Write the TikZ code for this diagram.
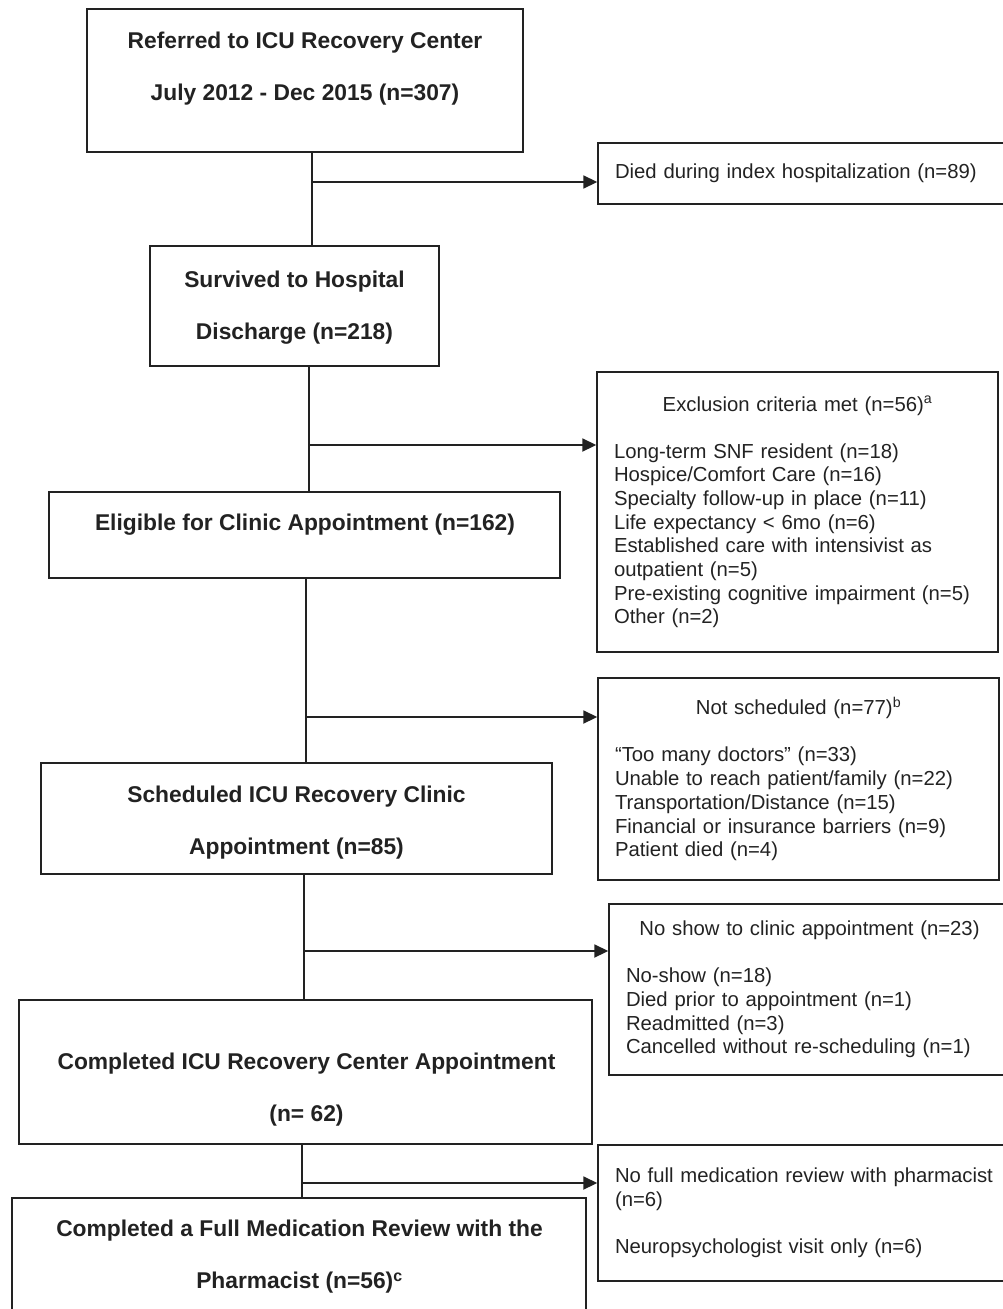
\documentclass[tikz,border=0pt]{standalone}
\usepackage{fontspec}
\setmainfont{Liberation Sans}
\usepackage{xcolor}
\usepackage{tikz}
\usetikzlibrary{arrows.meta}
\definecolor{inkgray}{RGB}{34,34,34}
\hyphenpenalty=10000
\exhyphenpenalty=10000
\tikzset{
    main_box/.style = {rectangle, draw=inkgray, line width=1.6pt, inner sep=0pt},
    main_text/.style = {align=center, inner sep=0pt, text=inkgray, font=\bfseries\fontsize{22.8}{52}\selectfont},
    side_box/.style = {rectangle, draw=inkgray, line width=1.4pt, inner xsep=17pt, inner ysep=0pt, align=left, text=inkgray,
        font=\fontsize{20.3}{23.7}\selectfont},
    flow/.style = {draw=inkgray, line width=1.8pt}
}

\begin{document}
\begin{tikzpicture}
            [x=1pt, y=-1pt, >={Triangle[length=14pt, width=13pt]}]

            \useasboundingbox (0,0) rectangle (1003,1309);
            \clip (0,0) rectangle (1003,1309);

            % main column
            \node [main_box, minimum width=436pt, minimum height=143pt] (ref) at (305,80.5) {};
            \node [main_text] (reftxt) at (305,68.5) {Referred to ICU Recovery Center\\July 2012 - Dec 2015 (n=307)};

            \node [main_box, minimum width=289pt, minimum height=120pt] (surv) at (294.5,306) {};
            \node [main_text] (survtxt) at (294.5,308) {Survived to Hospital\\Discharge (n=218)};

            \node [main_box, minimum width=511pt, minimum height=86pt] (elig) at (304.5,535) {};
            \node [main_text] (eligtxt) at (305,525) {Eligible for Clinic Appointment (n=162)};

            \node [main_box, minimum width=511pt, minimum height=111pt] (sched) at (296.5,818.5) {};
            \node [main_text] (schedtxt) at (296.5,823) {Scheduled ICU Recovery Clinic\\Appointment (n=85)};

            \node [main_box, minimum width=573pt, minimum height=144pt] (compl) at (305.5,1072) {};
            \node [main_text] (compltxt) at (306.5,1090) {Completed ICU Recovery Center Appointment\\(n= 62)};

            \node [main_box, minimum width=574pt, minimum height=114pt] (med) at (299,1255) {};
            \node [main_text] (medtxt) at (299.5,1257) {Completed a Full Medication Review with the\\Pharmacist (n=56)\textsuperscript{c}};

            % side boxes
            \node [side_box, text width=378pt, minimum height=61pt] (died) at (804,173.5)
                {Died during index hospitalization (n=89)};

            \node [side_box, text width=367pt, minimum height=280pt] (excl) at (797.5,512)
                {{\centering Exclusion criteria met (n=56)\textsuperscript{a}\par}\vspace{23.3pt}
                Long-term SNF resident (n=18)\\
                Hospice/Comfort Care (n=16)\\
                Specialty follow-up in place (n=11)\\
                Life expectancy < 6mo (n=6)\\
                Established care with intensivist as\\
                outpatient (n=5)\\
                Pre-existing cognitive impairment (n=5)\\
                Other (n=2)};

            \node [side_box, text width=367pt, minimum height=202pt] (nosch) at (798.5,779)
                {{\centering Not scheduled (n=77)\textsuperscript{b}\par}\vspace{23.3pt}
                “Too many doctors” (n=33)\\
                Unable to reach patient/family (n=22)\\
                Transportation/Distance (n=15)\\
                Financial or insurance barriers (n=9)\\
                Patient died (n=4)};

            \node [side_box, text width=367pt, minimum height=171pt] (noshow) at (809.5,989.5)
                {{\centering No show to clinic appointment (n=23)\par}\vspace{23.3pt}
                No-show (n=18)\\
                Died prior to appointment (n=1)\\
                Readmitted (n=3)\\
                Cancelled without re-scheduling (n=1)};

            \node [side_box, text width=385pt, minimum height=136pt] (nomed) at (807.5,1213)
                {No full medication review with pharmacist\\
                (n=6)\par\vspace{23.3pt}
                Neuropsychologist visit only (n=6)};

            % connectors
            \coordinate (s1) at (312,182);
            \coordinate (s2) at (309,445);
            \coordinate (s3) at (306,717);
            \coordinate (s4) at (304,951);
            \coordinate (s5) at (302,1183);

            \draw [flow] (s1 |- ref.south) -- (s1 |- surv.north);
            \draw [flow, ->] (s1) -- (s1 -| died.west);
            \draw [flow] (s2 |- surv.south) -- (s2 |- elig.north);
            \draw [flow, ->] (s2) -- (s2 -| excl.west);
            \draw [flow] (s3 |- elig.south) -- (s3 |- sched.north);
            \draw [flow, ->] (s3) -- (s3 -| nosch.west);
            \draw [flow] (s4 |- sched.south) -- (s4 |- compl.north);
            \draw [flow, ->] (s4) -- (s4 -| noshow.west);
            \draw [flow] (s5 |- compl.south) -- (s5 |- med.north);
            \draw [flow, ->] (s5) -- (s5 -| nomed.west);
        \end{tikzpicture}
\end{document}
